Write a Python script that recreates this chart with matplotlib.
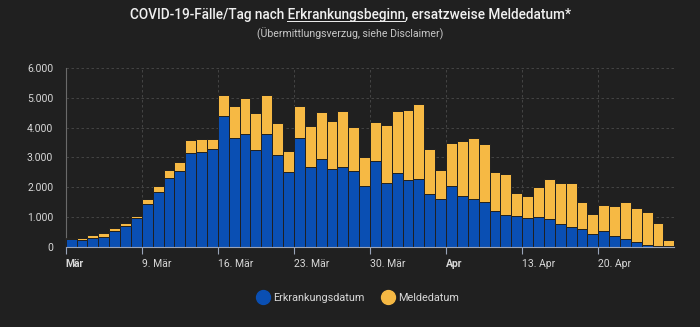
import numpy as np
import pandas as pd
import matplotlib
matplotlib.use("Agg")
import matplotlib.pyplot as plt
import matplotlib.transforms as mtrans
from matplotlib.lines import Line2D

# Tage ab Montag 2. März 2020
tage = pd.date_range("2020-03-02", "2020-04-26", freq="D")

# Fälle nach Erkrankungsdatum (blau)
erkrankung = [250, 230, 300, 340, 520, 700, 950, 1430, 1840, 2320,
              2540, 3140, 3200, 3270, 4400, 3650, 3790, 3250, 3790, 3070,
              2520, 3670, 2690, 2950, 2600, 2670, 2540, 2040, 2880, 2130,
              2490, 2240, 2270, 1770, 1590, 2030, 1700, 1590, 1500, 1200,
              1060, 1020, 960, 990, 920, 760, 670, 600, 430, 520,
              370, 250, 150, 60, 20, 10]

# ersatzweise Meldedatum (gelb, gestapelt)
meldung = [40, 50, 80, 110, 110, 80, 70, 160, 200, 260,
           310, 460, 430, 360, 700, 1070, 1210, 1230, 1310, 1080,
           690, 1050, 1360, 1590, 1630, 1890, 1480, 980, 1320, 1950,
           2070, 2350, 2540, 1520, 990, 1450, 1850, 2050, 1950, 1320,
           1380, 790, 740, 1010, 1370, 1390, 1480, 900, 680, 890,
           1010, 1250, 1140, 1110, 760, 230]

tick_tage = pd.to_datetime(["2020-03-02", "2020-03-09", "2020-03-16", "2020-03-23",
                            "2020-03-30", "2020-04-06", "2020-04-13", "2020-04-20"])
tick_labels = ["Mär", "9. Mär", "16. Mär", "23. Mär", "30. Mär", "Apr", "13. Apr", "20. Apr"]
y_ticks = [0, 1000, 2000, 3000, 4000, 5000, 6000]
y_labels = ["0", "1.000", "2.000", "3.000", "4.000", "5.000", "6.000"]

bg = "#202020"
blau = "#0a4fb3"
gelb = "#f6b944"
textfarbe = "#d8d8d8"
gitter = "#4a4a4a"

plt.rcParams["font.family"] = ["Roboto", "DejaVu Sans"]

fig = plt.figure(figsize=(7, 3.27), dpi=100, facecolor=bg)
ax = fig.add_axes([0.0939, 0.2456, 0.8694, 0.5455])
ax.set_facecolor(bg)

mitte = tage + pd.Timedelta(hours=12)
ax.bar(mitte, erkrankung, width=1.0, color=blau, edgecolor=bg, linewidth=0.7, zorder=3)
ax.bar(mitte, meldung, width=1.0, bottom=erkrankung, color=gelb, edgecolor=bg,
       linewidth=0.7, zorder=3)

ax.set_xlim(tage[0], tage[-1] + pd.Timedelta(days=1))
ax.set_ylim(0, 6000)

ax.set_yticks(y_ticks)
ax.set_yticklabels(y_labels, color=textfarbe, fontsize=7.5)
ax.set_xticks(tick_tage)
ax.set_xticklabels(tick_labels, color=textfarbe, fontsize=7.5, ha="left")
verschub = mtrans.ScaledTranslation(2.5 / 100, 0, fig.dpi_scale_trans)
for lab in ax.get_xticklabels():
    lab.set_transform(lab.get_transform() + verschub)
    if lab.get_text() in ("Mär", "Apr"):
        lab.set_fontweight("bold")
ax.tick_params(axis="y", length=0, pad=9)
ax.tick_params(axis="x", length=5, color="#9aa4b8", pad=4)

ax.grid(True, axis="both", color=gitter, linestyle=(0, (3, 3)), linewidth=0.6, zorder=0)
for s in ["top", "right"]:
    ax.spines[s].set_visible(False)
ax.spines["left"].set_color("#6a6a6a")
ax.spines["left"].set_linewidth(0.8)
ax.spines["bottom"].set_color("#9aa4b8")
ax.spines["bottom"].set_linewidth(0.8)
ax.spines["bottom"].set_zorder(4)
ax.axvline(tage[-1] + pd.Timedelta(days=1), color=gitter, linestyle=(0, (3, 3)),
           linewidth=0.6, zorder=0)

# Titel mit unterstrichenem Wort
titel = "COVID-19-Fälle/Tag nach Erkrankungsbeginn, ersatzweise Meldedatum*"
tsize = 9.8
t = fig.text(0.5, 1 - 15 / 327, titel, ha="center", va="center", color="#f0f0f0",
             fontsize=tsize, fontweight="medium")
fig.text(0.5, 1 - 34 / 327, "(Übermittlungsverzug, siehe Disclaimer)", ha="center",
         va="center", color="#c8c8c8", fontsize=7.6)

renderer = fig.canvas.get_renderer()
bb = t.get_window_extent(renderer)
probe1 = fig.text(0, 0, "COVID-19-Fälle/Tag nach Erkrankungsbeginn", fontsize=tsize,
                  fontweight="medium")
probe2 = fig.text(0, 0, "Erkrankungsbeginn", fontsize=tsize, fontweight="medium")
w1 = probe1.get_window_extent(renderer).width
w2 = probe2.get_window_extent(renderer).width
probe1.remove()
probe2.remove()
x_end = bb.x0 + w1
x_start = x_end - w2
y_line = bb.y0 + 1.5
fig.add_artist(Line2D([x_start / 700, x_end / 700], [y_line / 327, y_line / 327],
                      color="#f0f0f0", linewidth=0.7))

# Legende
handles = [Line2D([], [], marker="o", linestyle="", markersize=10, color=blau),
           Line2D([], [], marker="o", linestyle="", markersize=10, color=gelb)]
leg = fig.legend(handles, ["Erkrankungsdatum", "Meldedatum"], loc="center",
                 bbox_to_anchor=(0.511, 1 - 298 / 327), ncol=2, frameon=False,
                 fontsize=7.8, handletextpad=0.35, columnspacing=1.6, handlelength=1.2)
for txt in leg.get_texts():
    txt.set_color(textfarbe)

fig.savefig("out.png", dpi=100, facecolor=bg)
